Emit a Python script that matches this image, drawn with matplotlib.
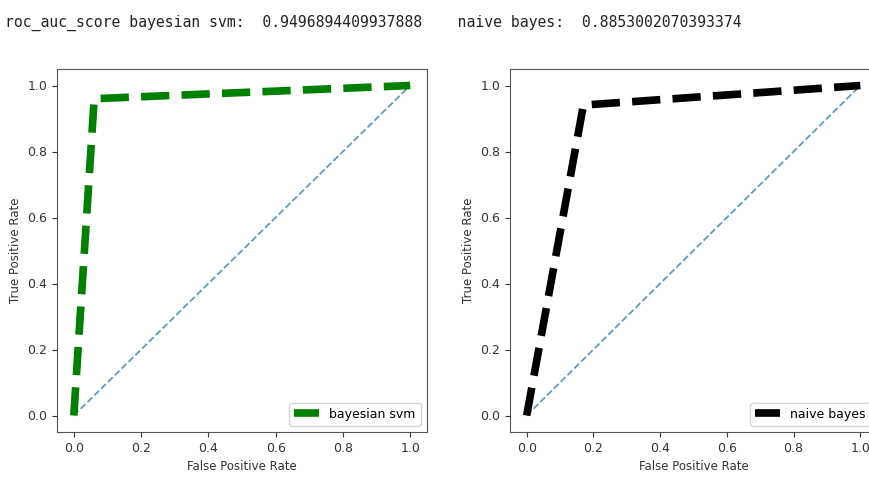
import matplotlib.pyplot as plt

# ROC points
svm_fpr = [0.0, 0.0606, 1.0]
svm_tpr = [0.0, 0.96, 1.0]
nb_fpr = [0.0, 0.17, 1.0]
nb_tpr = [0.0, 0.9406, 1.0]
diag = [0.0, 1.0]

svm_auc = "0.9496894409937888"
nb_auc = "0.8853002070393374"

plt.rcParams['font.size'] = 8.5
plt.rcParams['xtick.labelsize'] = 9
plt.rcParams['ytick.labelsize'] = 9
plt.rcParams['axes.edgecolor'] = '#555555'
plt.rcParams['xtick.color'] = '#333333'
plt.rcParams['ytick.color'] = '#333333'

fig = plt.figure(figsize=(8.7, 4.84), dpi=100)
fig.text(0.006, 0.953, "roc_auc_score bayesian svm:  " + svm_auc + "    naive bayes:  " + nb_auc,
         family='DejaVu Sans Mono', fontsize=10.65, va='center', ha='left', color='#222222')

ax1 = fig.add_axes([57 / 870, 1 - 432 / 484, 370 / 870, 363 / 484])
ax2 = fig.add_axes([510 / 870, 1 - 432 / 484, 367 / 870, 363 / 484])

ax1.plot(diag, diag, linestyle='--', color='#5b9bc7', linewidth=1.3)
ax1.plot(svm_fpr, svm_tpr, linestyle='--', color='green', linewidth=5.5, label='bayesian svm')
ax1.set_xlabel("False Positive Rate", color='#333333')
ax1.set_ylabel("True Positive Rate", color='#333333')
ax1.legend(loc='lower right', fontsize=9)

ax2.plot(diag, diag, linestyle='--', color='#5b9bc7', linewidth=1.3)
ax2.plot(nb_fpr, nb_tpr, linestyle='--', color='black', linewidth=5.5, label='naive bayes')
ax2.set_xlabel("False Positive Rate", color='#333333')
ax2.set_ylabel("True Positive Rate", color='#333333')
ax2.legend(loc='lower right', fontsize=9)

for ax in (ax1, ax2):
    ax.set_xlim(-0.05, 1.05)
    ax.set_ylim(-0.05, 1.05)
    ax.set_xticks([0.0, 0.2, 0.4, 0.6, 0.8, 1.0])
    ax.set_yticks([0.0, 0.2, 0.4, 0.6, 0.8, 1.0])

fig.savefig("out.png", dpi=100)
